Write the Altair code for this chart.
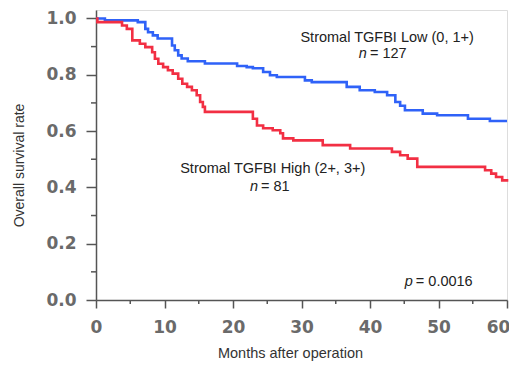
import altair as alt
import pandas as pd

# Kaplan-Meier step points (month, survival)
low_months = [0, 1.3, 6.1, 7.2, 7.6, 8.3, 9.0, 11.1, 11.5, 12.0, 12.5, 13.4, 15.9, 20.6, 22.0, 22.9,
              24.4, 25.4, 26.4, 30.5, 31.5, 36.6, 38.5, 40.7, 42.5, 43.7, 44.4, 45.1, 47.7, 49.8,
              54.3, 57.5, 60]
low_surv = [1.0, 0.993, 0.987, 0.963, 0.951, 0.94, 0.929, 0.904, 0.887, 0.869, 0.858, 0.848, 0.84,
            0.831, 0.827, 0.823, 0.81, 0.798, 0.792, 0.78, 0.774, 0.757, 0.745, 0.739, 0.727, 0.703,
            0.69, 0.674, 0.662, 0.656, 0.644, 0.636, 0.636]

high_months = [0, 0.2, 3.8, 4.5, 5.3, 6.4, 7.2, 8.2, 8.6, 9.1, 9.8, 10.5, 11.2, 12.0, 12.6, 13.3,
               14.0, 14.7, 15.2, 15.6, 15.9, 22.9, 23.5, 24.4, 25.8, 26.9, 27.3, 28.8, 33.1, 37.1,
               43.2, 44.4, 45.5, 46.9, 56.8, 57.7, 58.4, 59.3, 60]
high_surv = [1.0, 0.987, 0.975, 0.963, 0.922, 0.91, 0.898, 0.88, 0.857, 0.839, 0.827, 0.816, 0.804,
             0.786, 0.768, 0.757, 0.745, 0.727, 0.703, 0.686, 0.668, 0.644, 0.62, 0.61, 0.603, 0.592,
             0.574, 0.567, 0.55, 0.538, 0.526, 0.514, 0.502, 0.473, 0.461, 0.449, 0.437, 0.425, 0.42]

groups = ["Low", "High"]
colors = ["#2f62f8", "#f22f43"]

x_major = [0, 10, 20, 30, 40, 50, 60]
x_minor = [5, 15, 25, 35, 45, 55]
y_major = [0.0, 0.2, 0.4, 0.6, 0.8, 1.0]
y_minor = [0.1, 0.3, 0.5, 0.7, 0.9]

df = pd.concat([
    pd.DataFrame({"month": low_months, "surv": low_surv, "group": "Low"}),
    pd.DataFrame({"month": high_months, "surv": high_surv, "group": "High"}),
])

xscale = alt.Scale(domain=[0, 60], nice=False, zero=False)
yscale = alt.Scale(domain=[0, 1.03], nice=False)

axis_font = "DejaVu Sans"
txt_font = "Liberation Sans"
AX = "#555"

x_axis = alt.Axis(
    values=x_major, format="d",
    tickSize=8, labelPadding=11,
    labelOffset={"condition": {"test": "datum.value == 60", "value": -9}, "value": 0},
    labelFont=axis_font, labelFontSize=17, labelFontWeight="bold", labelColor="#6a6a6a",
    labelFlush=False,
    title="Months after operation", titleFont=txt_font, titleFontSize=14.5, titleFontWeight="normal",
    titleColor="#333", titleX=194, titleY=53, titleBaseline="middle", titleAnchor="middle",
    domainColor=AX, tickColor=AX, domainWidth=1.5, tickWidth=1.5, grid=False,
)
y_axis = alt.Axis(
    values=y_major, format=".1f",
    tickSize=10, labelPadding=10,
    labelFont=axis_font, labelFontSize=17, labelFontWeight="bold", labelColor="#6a6a6a",
    labelFlush=False,
    title="Overall survival rate", titleFont=txt_font, titleFontSize=14, titleFontWeight="normal",
    titleColor="#333", titleX=-77, titleY=155, titleAngle=-90, titleBaseline="middle",
    titleAlign="center",
    domainColor=AX, tickColor=AX, domainWidth=1.5, tickWidth=1.5, grid=False,
)

lines = alt.Chart(df).mark_line(interpolate="step-after", strokeWidth=2.6).encode(
    x=alt.X("month:Q", scale=xscale, axis=x_axis),
    y=alt.Y("surv:Q", scale=yscale, axis=y_axis),
    color=alt.Color("group:N", scale=alt.Scale(domain=groups, range=colors), legend=None),
    detail="group:N",
)

# minor ticks
xm = alt.Chart(pd.DataFrame({"m": x_minor})).mark_rule(color=AX, strokeWidth=1.5).encode(
    x=alt.X("m:Q", scale=xscale), y=alt.value(290), y2=alt.value(294))
ym = alt.Chart(pd.DataFrame({"s": y_minor})).mark_rule(color=AX, strokeWidth=1.5).encode(
    y=alt.Y("s:Q", scale=yscale), x=alt.value(-5), x2=alt.value(0))

# annotation texts
labels = pd.DataFrame({
    "month": [42.5, 25.8],
    "surv": [0.931, 0.464],
    "text": ["Stromal TGFBI Low (0, 1+)", "Stromal TGFBI High (2+, 3+)"],
})
ital = pd.DataFrame({"month": [39.7, 23.8, 46.4], "surv": [0.872, 0.402, 0.065],
                     "text": ["n", "n", "p"]})
rest = pd.DataFrame({"month": [39.7, 23.8, 46.4], "surv": [0.872, 0.402, 0.065],
                     "text": ["= 127", "= 81", "= 0.0016"]})

FS = 14.5
t1 = alt.Chart(labels).mark_text(font=txt_font, fontSize=FS, color="#222", align="center",
                                 baseline="middle").encode(
    x=alt.X("month:Q", scale=xscale), y=alt.Y("surv:Q", scale=yscale), text="text:N")
t2 = alt.Chart(ital).mark_text(font=txt_font, fontSize=FS, fontStyle="italic", color="#222",
                               align="right", baseline="middle", dx=-1).encode(
    x=alt.X("month:Q", scale=xscale), y=alt.Y("surv:Q", scale=yscale), text="text:N")
t3 = alt.Chart(rest).mark_text(font=txt_font, fontSize=FS, color="#222", align="left",
                               baseline="middle", dx=2).encode(
    x=alt.X("month:Q", scale=xscale), y=alt.Y("surv:Q", scale=yscale), text="text:N")

chart = alt.layer(lines, xm, ym, t1, t2, t3).properties(
    width=411, height=290,
    autosize=alt.AutoSizeParams(type="none"),
    padding={"left": 88, "top": 2, "right": 2, "bottom": 64},
).configure_view(stroke="#888", strokeWidth=1.5).configure(background="white")

chart.save("out.html", embed_options={"renderer": "svg", "actions": False})
